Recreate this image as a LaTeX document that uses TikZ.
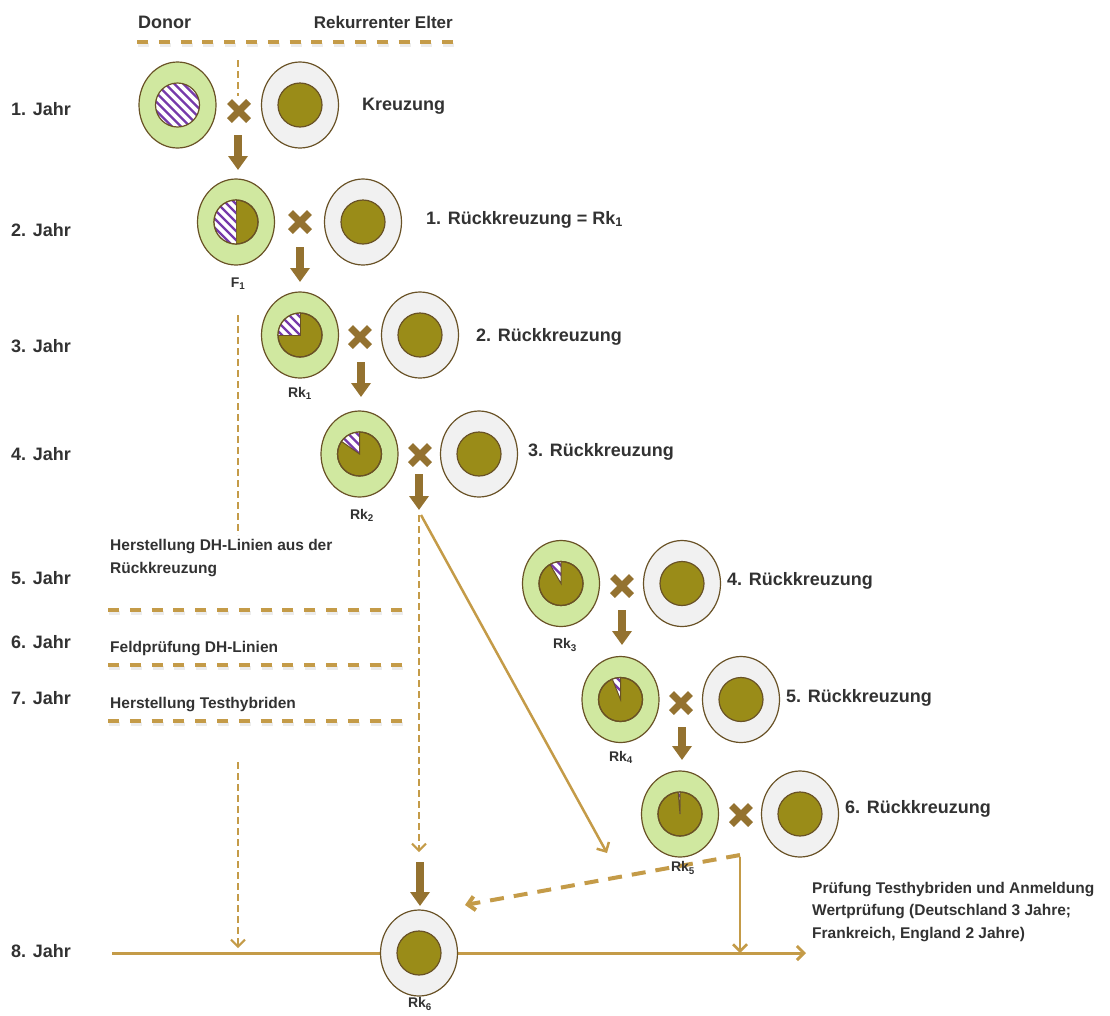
\documentclass[tikz,border=0pt]{standalone}
\usepackage{fontspec}
\setmainfont{Liberation Sans}
\usetikzlibrary{shapes.geometric,arrows.meta,calc}
\definecolor{txt}{RGB}{50,50,50}
\definecolor{lgreen}{RGB}{208,232,160}
\definecolor{lgrey}{RGB}{241,241,241}
\definecolor{innerol}{RGB}{154,140,24}
\definecolor{edgec}{RGB}{105,82,38}
\definecolor{hatchc}{RGB}{118,58,170}
\definecolor{brownar}{RGB}{148,114,48}
\definecolor{goldc}{RGB}{196,155,72}
\newcommand\hatchwedge[3]{%
  \begin{scope}
    \clip (#1.center) circle[radius=22pt];
    \clip (#1.center) -- ($(#1.center)+(#2:60)$) -- ($(#1.center)+({(#2+#3)/2}:60)$) -- ($(#1.center)+(#3:60)$) -- cycle;
    \fill[white] (#1.center) circle[radius=22pt];
    \foreach \k in {-72,-63,...,72} \draw[hatchc,line width=2.2pt] ($(#1.center)+(\k-40,-40)$) -- ($(#1.center)+(\k+40,40)$);
  \end{scope}
  \draw[edgec,line width=1pt] ($(#1.center)+(#2:22)$) -- (#1.center) -- ($(#1.center)+(#3:22)$);
  \draw[edgec,line width=1.2pt] (#1.center) circle[radius=22pt];
}
\begin{document}
\begin{tikzpicture}[x=1pt,y=-1pt,
  outerD/.style={ellipse, draw=edgec, line width=1.2pt, fill=lgreen, minimum width=77pt, minimum height=86pt, inner sep=0pt},
  outerR/.style={ellipse, draw=edgec, line width=1.2pt, fill=lgrey, minimum width=77pt, minimum height=86pt, inner sep=0pt},
  innerc/.style={circle, draw=edgec, line width=1.2pt, fill=innerol, minimum size=44pt, inner sep=0pt},
  fatarrow/.style={brownar, line width=8pt, -{Triangle[width=19pt,length=14pt]}},
  thinline/.style={goldc, line width=2.5pt},
  goldtip/.style={-{Straight Barb[length=7pt,width=14pt]}},
  thickdash/.style={goldc, line width=4pt, dash pattern=on 11pt off 10.8pt},
  thindash/.style={goldc, line width=2pt, dash pattern=on 7pt off 4pt},
  shadowdash/.style={black!30, opacity=0.25, line width=4pt, dash pattern=on 11pt off 10.8pt},
  lab/.style={text=txt, font=\bfseries\fontsize{18}{20}\selectfont, inner sep=0pt},
  mid/.style={text=txt, font=\bfseries\fontsize{15.5}{22.5}\selectfont, inner sep=0pt},
  small/.style={text=txt, font=\bfseries\fontsize{14}{16}\selectfont, inner sep=0pt},
  kreuz/.pic={\draw[brownar,line width=7pt] (-9.5,-9.5)--(9.5,9.5) (-9.5,9.5)--(9.5,-9.5);}
]
\useasboundingbox (0,0) rectangle (1110,1015);

% ---------- coordinates for lines ----------
\coordinate (t0) at (137,42);   \coordinate (t1) at (453,42);
\coordinate (v0) at (238,60);   \coordinate (v1) at (238,96);
\coordinate (lv0) at (238,315); \coordinate (lv1) at (238,535);
\coordinate (lw0) at (238,762); \coordinate (lw1) at (238,948);
\coordinate (mv0) at (419,515); \coordinate (mv1) at (419,852);
\coordinate (dg0) at (421,515); \coordinate (dg1) at (607,853);
\coordinate (h5a) at (108,610); \coordinate (h5b) at (402,610);
\coordinate (h6a) at (108,665); \coordinate (h6b) at (402,665);
\coordinate (h7a) at (108,721); \coordinate (h7b) at (402,721);
\coordinate (rk5c) at (740,855); \coordinate (rk6in) at (465,905);
\coordinate (sv0) at (740,857); \coordinate (sv1) at (740,953);
\coordinate (hl0) at (112,953); \coordinate (hl1) at (806,953);

% ---------- dashed / thin lines ----------
\draw[shadowdash] ($(t0)+(1,3)$) -- ($(t1)+(1,3)$);
\draw[thickdash] (t0) -- (t1);
\foreach \a/\b in {h5a/h5b,h6a/h6b,h7a/h7b}{
  \draw[shadowdash] ($(\a)+(1,3)$) -- ($(\b)+(1,3)$);
  \draw[thickdash] (\a) -- (\b);
}
\draw[thindash] (v0) -- (v1);
\draw[thindash] (lv0) -- (lv1);
\draw[thindash,goldtip] (lw0) -- (lw1);
\draw[thindash,goldtip] (mv0) -- (mv1);
\draw[thinline,goldtip] (dg0) -- (dg1);
\draw[thinline,line width=3pt,goldtip] (hl0) -- (hl1);
\draw[thinline,goldtip] (sv0) -- (sv1);
\draw[goldc,line width=4pt,dash pattern=on 14pt off 10pt,goldtip] (rk5c) -- (rk6in);

% ---------- circles ----------
\node[outerD] (d0) at (177.5,105) {};
\node[outerR] (r1) at (300,105) {};
\node[outerD] (p1) at (236,222) {};
\node[outerR] (r2) at (363,222) {};
\node[outerD] (p2) at (300,335) {};
\node[outerR] (r3) at (420,335) {};
\node[outerD] (p3) at (359.5,454) {};
\node[outerR] (r4) at (479,454) {};
\node[outerD] (p4) at (561,583.5) {};
\node[outerR] (r5) at (682,583.5) {};
\node[outerD] (p5) at (620.5,699.5) {};
\node[outerR] (r6) at (741,699.5) {};
\node[outerD] (p6) at (680,814) {};
\node[outerR] (r7) at (800,814) {};
\node[outerR] (p7) at (419,953) {};

\foreach \n in {r1,r2,r3,r4,r5,r6,r7,p1,p2,p3,p4,p5,p6,p7}
  \node[innerc] (i\n) at (\n.center) {};

% Donor fully hatched
\begin{scope}
  \clip (d0.center) circle[radius=22pt];
  \fill[white] (d0.center) circle[radius=22pt];
  \foreach \k in {-72,-63,...,72} \draw[hatchc,line width=2.2pt] ($(d0.center)+(\k-40,-40)$) -- ($(d0.center)+(\k+40,40)$);
\end{scope}
\draw[edgec,line width=1.2pt] (d0.center) circle[radius=22pt];

\hatchwedge{p1}{90}{270}
\hatchwedge{p2}{180}{270}
\hatchwedge{p3}{215}{270}
\hatchwedge{p4}{240}{270}
\hatchwedge{p5}{248}{270}
\hatchwedge{p6}{265}{270}

% ---------- crosses ----------
\pic at (239,111) {kreuz};
\pic at (300,222) {kreuz};
\pic at (360,337) {kreuz};
\pic at (420,455) {kreuz};
\pic at (622,586) {kreuz};
\pic at (681,703) {kreuz};
\pic at (741,815) {kreuz};

% ---------- fat arrows ----------
\coordinate (a1s) at (238,135); \coordinate (a1e) at (238,170);
\coordinate (a2s) at (300,247); \coordinate (a2e) at (300,282);
\coordinate (a3s) at (361,362); \coordinate (a3e) at (361,397);
\coordinate (a4s) at (419,474); \coordinate (a4e) at (419,510);
\coordinate (a5s) at (622,610); \coordinate (a5e) at (622,645);
\coordinate (a6s) at (682,727); \coordinate (a6e) at (682,760);
\coordinate (a7s) at (420,862); \coordinate (a7e) at (420,906);
\foreach \i in {1,...,7} \draw[fatarrow] (a\i s) -- (a\i e);

% ---------- texts ----------
\node[lab,anchor=base west] (tdonor) at (138,28) {Donor};
\node[lab,anchor=base east,font=\bfseries\fontsize{17}{20}\selectfont] (trek) at (453,28) {Rekurrenter Elter};

\node[lab,anchor=base west] (y1) at (11,115) {1. Jahr};
\node[lab,anchor=base west] (y2) at (11,236) {2. Jahr};
\node[lab,anchor=base west] (y3) at (11,352) {3. Jahr};
\node[lab,anchor=base west] (y4) at (11,460) {4. Jahr};
\node[lab,anchor=base west] (y5) at (11,584) {5. Jahr};
\node[lab,anchor=base west] (y6) at (11,648) {6. Jahr};
\node[lab,anchor=base west] (y7) at (11,704) {7. Jahr};
\node[lab,anchor=base west] (y8) at (11,957) {8. Jahr};

\node[lab,anchor=base west] (k0) at (362,110) {Kreuzung};
\node[lab,anchor=base west] (k1) at (426,224) {1. Rückkreuzung = Rk\textsubscript{1}};
\node[lab,anchor=base west] (k2) at (476,341) {2. Rückkreuzung};
\node[lab,anchor=base west] (k3) at (528,456) {3. Rückkreuzung};
\node[lab,anchor=base west] (k4) at (727,585) {4. Rückkreuzung};
\node[lab,anchor=base west] (k5) at (786,702) {5. Rückkreuzung};
\node[lab,anchor=base west] (k6) at (845,813) {6. Rückkreuzung};

\node[small] (lf1) at (238,284) {F\textsubscript{1}};
\node[small] (lr1) at (300,393) {Rk\textsubscript{1}};
\node[small] (lr2) at (362,515) {Rk\textsubscript{2}};
\node[small] (lr3) at (565,645) {Rk\textsubscript{3}};
\node[small] (lr4) at (621,757) {Rk\textsubscript{4}};
\node[small] (lr5) at (683,868) {Rk\textsubscript{5}};
\node[small] (lr6) at (420,1004) {Rk\textsubscript{6}};

\node[mid,anchor=base west,align=left] (dh1) at (110,573) {Herstellung DH-Linien aus der\\Rückkreuzung};
\node[mid,anchor=base west] (dh2) at (110,652) {Feldprüfung DH-Linien};
\node[mid,anchor=base west] (dh3) at (110,708) {Herstellung Testhybriden};

\node[mid,anchor=base west,align=left] (pt) at (812,938) {Prüfung Testhybriden und Anmeldung\\Wertprüfung (Deutschland 3 Jahre;\\Frankreich, England 2 Jahre)};
\end{tikzpicture}
\end{document}
